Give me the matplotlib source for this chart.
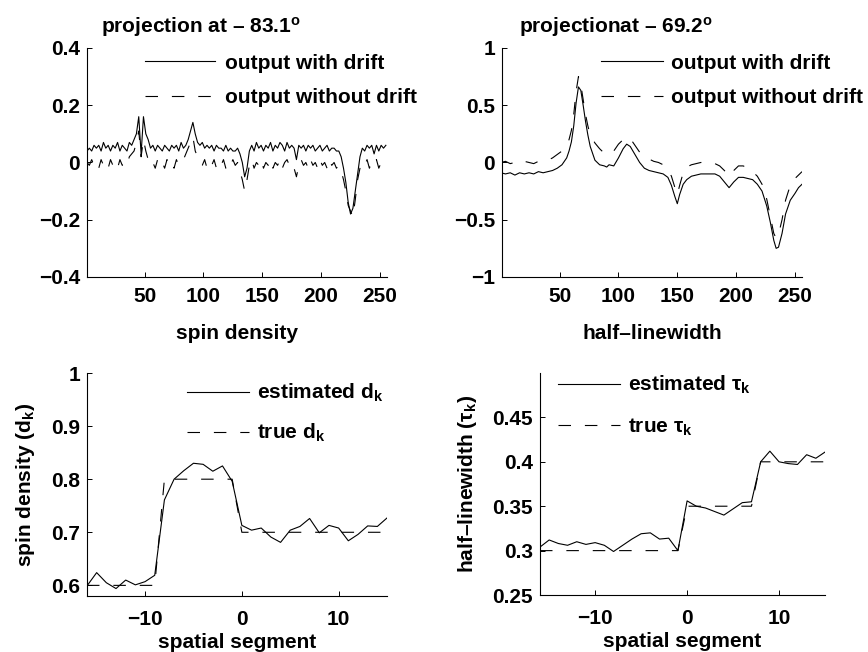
import matplotlib
matplotlib.use("Agg")
import matplotlib.pyplot as plt
import numpy as np

plt.rcParams['font.family'] = ['Liberation Sans', 'DejaVu Sans']
plt.rcParams['font.weight'] = 'bold'
plt.rcParams['font.size'] = 15
plt.rcParams['mathtext.fontset'] = 'custom'
plt.rcParams['mathtext.rm'] = 'Liberation Sans:bold'
plt.rcParams['mathtext.bf'] = 'Liberation Sans:bold'
plt.rcParams['mathtext.it'] = 'Liberation Sans:bold'
plt.rcParams['lines.scale_dashes'] = False

# --- projection at -83.1 deg (x = 1, 3, ..., 255)
proj1_with = [
    0.04, 0.05, 0.04, 0.06, 0.05, 0.06, 0.04, 0.07, 0.05, 0.06, 0.04, 0.06, 0.05, 0.07, 0.04, 0.06,
    0.05, 0.04, 0.07, 0.06, 0.08, 0.10, 0.16, 0.03, 0.16, 0.10, 0.08, 0.05, 0.06, 0.04, 0.06, 0.05,
    0.04, 0.06, 0.05, 0.04, 0.06, 0.05, 0.06, 0.04, 0.07, 0.05, 0.06, 0.08, 0.11, 0.14, 0.10, 0.07,
    0.06, 0.07, 0.05, 0.06, 0.05, 0.06, 0.04, 0.06, 0.05, 0.05, 0.04, 0.06, 0.04, 0.05, 0.04, 0.04,
    0.05, 0.03, 0.00, -0.05, -0.02, 0.04, 0.06, 0.04, 0.07, 0.05, 0.06, 0.04, 0.06, 0.05, 0.07, 0.04,
    0.06, 0.05, 0.07, 0.06, 0.04, 0.07, 0.05, 0.06, 0.05, 0.01, 0.06, 0.05, 0.06, 0.04, 0.06, 0.05,
    0.06, 0.04, 0.05, 0.06, 0.04, 0.05, 0.06, 0.04, 0.05, 0.05, 0.04, 0.04, 0.02, -0.02, -0.07, -0.14,
    -0.18, -0.16, -0.10, -0.04, 0.02, 0.05, 0.04, 0.06, 0.05, 0.06, 0.03, 0.06, 0.04, 0.06, 0.05, 0.06,
]
proj1_without = [
    0.00, -0.01, 0.01, -0.01, 0.00, -0.02, 0.01, -0.01, 0.00, -0.02, 0.01, -0.01, 0.00, -0.02, 0.01, -0.01,
    0.00, -0.01, 0.02, 0.03, 0.04, 0.07, 0.11, 0.02, 0.08, 0.04, 0.01, -0.01, 0.00, -0.02, 0.01, -0.01,
    0.00, -0.02, 0.01, -0.01, 0.00, -0.02, 0.01, -0.01, 0.00, 0.01, 0.03, 0.05, 0.07, 0.09, 0.04, 0.02,
    0.00, -0.01, 0.01, -0.02, 0.00, -0.01, 0.01, -0.02, 0.00, -0.01, 0.01, -0.02, 0.00, -0.01, 0.01, -0.01,
    0.00, -0.03, -0.06, -0.10, -0.06, -0.01, 0.01, -0.02, 0.00, -0.01, 0.01, -0.02, 0.00, -0.01, 0.01, -0.02,
    0.00, -0.01, 0.01, -0.02, 0.00, 0.01, -0.01, 0.00, -0.02, -0.05, -0.01, 0.01, -0.01, 0.00, -0.02, 0.01,
    -0.01, 0.00, -0.02, 0.01, -0.01, 0.00, -0.02, 0.01, -0.01, 0.00, -0.02, -0.01, -0.03, -0.06, -0.10, -0.15,
    -0.17, -0.19, -0.13, -0.06, -0.02, 0.00, -0.01, 0.01, -0.02, 0.00, -0.01, 0.01, -0.02, 0.00, -0.01, 0.01,
]

# --- projection at -69.2 deg
proj2_x = [0, 4, 8, 12, 16, 20, 24, 28, 32, 36, 40, 44, 48, 52, 56, 58, 60, 62, 64, 66, 68, 70, 72, 74, 76,
           80, 84, 88, 90, 92, 96, 100, 104, 107, 110, 114, 118, 122, 126, 130, 134, 138, 142, 145, 148, 150,
           152, 155, 158, 162, 166, 170, 174, 178, 182, 186, 190, 194, 198, 202, 206, 210, 214, 218, 222, 226,
           229, 232, 234, 236, 239, 242, 246, 250, 253, 256]
proj2_with = [-0.09, -0.10, -0.09, -0.11, -0.09, -0.10, -0.09, -0.10, -0.08, -0.09, -0.08, -0.07, -0.05, -0.02,
              0.04, 0.10, 0.18, 0.32, 0.52, 0.66, 0.63, 0.50, 0.36, 0.24, 0.14,
              0.02, -0.02, -0.03, -0.04, -0.02, -0.03, 0.04, 0.12, 0.16, 0.14, 0.07, 0.00, -0.05, -0.07, -0.08,
              -0.09, -0.10, -0.13, -0.20, -0.30, -0.36,
              -0.28, -0.19, -0.15, -0.12, -0.11, -0.10, -0.10, -0.10, -0.10, -0.12, -0.17, -0.22, -0.17, -0.13,
              -0.13, -0.14, -0.15, -0.19, -0.25, -0.38,
              -0.52, -0.68, -0.75, -0.74, -0.62, -0.45, -0.33, -0.27, -0.22, -0.19]
proj2_without = [0.00, 0.01, -0.01, 0.00, -0.01, 0.01, 0.00, -0.01, 0.01, 0.02, 0.02, 0.04, 0.07, 0.10,
                 0.15, 0.20, 0.28, 0.42, 0.62, 0.75, 0.68, 0.55, 0.42, 0.32, 0.24,
                 0.17, 0.12, 0.08, 0.07, 0.08, 0.10, 0.16, 0.20, 0.22, 0.21, 0.15, 0.09, 0.05, 0.03, 0.01,
                 0.00, -0.02, -0.06, -0.12, -0.22, -0.28,
                 -0.20, -0.09, -0.04, -0.02, -0.01, 0.00, 0.00, 0.00, -0.01, -0.03, -0.07, -0.12, -0.07, -0.03,
                 -0.03, -0.05, -0.08, -0.12, -0.19, -0.32,
                 -0.47, -0.62, -0.66, -0.63, -0.50, -0.33, -0.20, -0.14, -0.11, -0.08]

# --- spatial segments
segments = [-16, -15, -14, -13, -12, -11, -10, -9, -8, -7, -6, -5, -4, -3, -2, -1,
            0, 1, 2, 3, 4, 5, 6, 7, 8, 9, 10, 11, 12, 13, 14, 15]
dk_est = [0.599, 0.624, 0.605, 0.594, 0.610, 0.601, 0.607, 0.619, 0.761, 0.800, 0.816, 0.830, 0.828, 0.815, 0.825, 0.796,
          0.713, 0.704, 0.708, 0.691, 0.681, 0.704, 0.711, 0.726, 0.699, 0.713, 0.708, 0.684, 0.696, 0.712, 0.711, 0.727]
dk_true = [0.6, 0.6, 0.6, 0.6, 0.6, 0.6, 0.6, 0.6, 0.8, 0.8, 0.8, 0.8, 0.8, 0.8, 0.8, 0.8,
           0.7, 0.7, 0.7, 0.7, 0.7, 0.7, 0.7, 0.7, 0.7, 0.7, 0.7, 0.7, 0.7, 0.7, 0.7, 0.7]
tau_est = [0.304, 0.312, 0.308, 0.306, 0.310, 0.307, 0.309, 0.306, 0.299, 0.306, 0.313, 0.319, 0.320, 0.313, 0.314, 0.300,
           0.356, 0.350, 0.348, 0.344, 0.340, 0.347, 0.354, 0.355, 0.400, 0.412, 0.400, 0.398, 0.397, 0.408, 0.404, 0.411]
tau_true = [0.30, 0.30, 0.30, 0.30, 0.30, 0.30, 0.30, 0.30, 0.30, 0.30, 0.30, 0.30, 0.30, 0.30, 0.30, 0.30,
            0.35, 0.35, 0.35, 0.35, 0.35, 0.35, 0.35, 0.35, 0.40, 0.40, 0.40, 0.40, 0.40, 0.40, 0.40, 0.40]

proj1_x = np.arange(1, 2 * len(proj1_with), 2)

LW = 0.8
DASH = (9.0, 10.0)
FS = 15

fig = plt.figure(figsize=(8.68, 6.52), dpi=100)
ax_tl = fig.add_axes([0.1002, 0.5752, 0.3457, 0.3512])
ax_tr = fig.add_axes([0.5783, 0.5752, 0.3457, 0.3512])
ax_bl = fig.add_axes([0.1002, 0.0859, 0.3457, 0.3420])
ax_br = fig.add_axes([0.6221, 0.0874, 0.3284, 0.3405])


def style(ax, xpad):
    for s in ['top', 'right']:
        ax.spines[s].set_visible(False)
    for s in ['left', 'bottom']:
        ax.spines[s].set_linewidth(0.8)
    ax.tick_params(direction='in', length=3.5, width=0.7, labelsize=FS)
    ax.tick_params(axis='x', pad=xpad)
    ax.tick_params(axis='y', pad=5)


def add_legend(ax, x0, y0, spacing, hlen=3.0, tpad=0.35):
    ax.legend(loc='upper left', bbox_to_anchor=(x0, y0), frameon=False, borderpad=0, borderaxespad=0,
              handlelength=hlen, handletextpad=tpad, labelspacing=spacing, fontsize=FS)


# top left
ax = ax_tl
ax.plot(proj1_x, proj1_with, color='black', lw=LW, label='output with drift')
ax.plot(proj1_x, proj1_without, color='black', lw=LW, dashes=DASH, label='output without drift')
ax.set_xlim(1, 256)
ax.set_ylim(-0.4, 0.4)
ax.set_xticks([50, 100, 150, 200, 250])
ax.set_yticks([-0.4, -0.2, 0, 0.2, 0.4])
ax.set_yticklabels(['\u22120.4', '\u22120.2', '0', '0.2', '0.4'])
style(ax, 7)
ax.set_xlabel('spin density', fontsize=FS, fontweight='bold', labelpad=13)
ax.text(0.38, 1.09, 'projection at \u2013 83.1$^{\\mathrm{o}}$', transform=ax.transAxes,
        ha='center', va='center', fontsize=FS, fontweight='bold')
add_legend(ax, 0.193, 0.975, 0.75, hlen=3.36, tpad=0.48)

# top right
ax = ax_tr
ax.plot(proj2_x, proj2_with, color='black', lw=LW, label='output with drift')
ax.plot(proj2_x, proj2_without, color='black', lw=LW, dashes=DASH, label='output without drift')
ax.set_xlim(1, 256)
ax.set_ylim(-1, 1)
ax.set_xticks([50, 100, 150, 200, 250])
ax.set_yticks([-1, -0.5, 0, 0.5, 1])
ax.set_yticklabels(['\u22121', '\u22120.5', '0', '0.5', '1'])
style(ax, 7)
ax.set_xlabel('half\u2013linewidth', fontsize=FS, fontweight='bold', labelpad=13)
ax.text(0.38, 1.09, 'projectionat \u2013 69.2$^{\\mathrm{o}}$', transform=ax.transAxes,
        ha='center', va='center', fontsize=FS, fontweight='bold')
add_legend(ax, 0.33, 0.975, 0.75)

# bottom left
ax = ax_bl
ax.plot(segments, dk_est, color='black', lw=LW, label='estimated d$_{\\mathrm{k}}$')
ax.plot(segments, dk_true, color='black', lw=LW, dashes=DASH, label='true d$_{\\mathrm{k}}$')
ax.set_xlim(-16, 15)
ax.set_ylim(0.58, 1.0)
ax.set_xticks([-10, 0, 10])
ax.set_xticklabels(['\u221210', '0', '10'])
ax.set_yticks([0.6, 0.7, 0.8, 0.9, 1.0])
ax.set_yticklabels(['0.6', '0.7', '0.8', '0.9', '1'])
style(ax, 10)
ax.set_xlabel('spatial segment', fontsize=FS, fontweight='bold', labelpad=3)
ax.set_ylabel('spin density (d$_{\\mathrm{k}}$)', fontsize=FS, fontweight='bold', labelpad=10)
add_legend(ax, 0.333, 0.96, 0.85)

# bottom right
ax = ax_br
ax.plot(segments, tau_est, color='black', lw=LW, label='estimated \u03c4$_{\\mathrm{k}}$')
ax.plot(segments, tau_true, color='black', lw=LW, dashes=DASH, label='true \u03c4$_{\\mathrm{k}}$')
ax.set_xlim(-16, 15)
ax.set_ylim(0.25, 0.5)
ax.set_xticks([-10, 0, 10])
ax.set_xticklabels(['\u221210', '0', '10'])
ax.set_yticks([0.25, 0.3, 0.35, 0.4, 0.45])
ax.set_yticklabels(['0.25', '0.3', '0.35', '0.4', '0.45'])
style(ax, 10)
ax.set_xlabel('spatial segment', fontsize=FS, fontweight='bold', labelpad=3)
ax.set_ylabel('half\u2013linewidth (\u03c4$_{\\mathrm{k}}$)', fontsize=FS, fontweight='bold', labelpad=10)
add_legend(ax, 0.063, 0.995, 0.95)

fig.savefig('out.png', dpi=100)
